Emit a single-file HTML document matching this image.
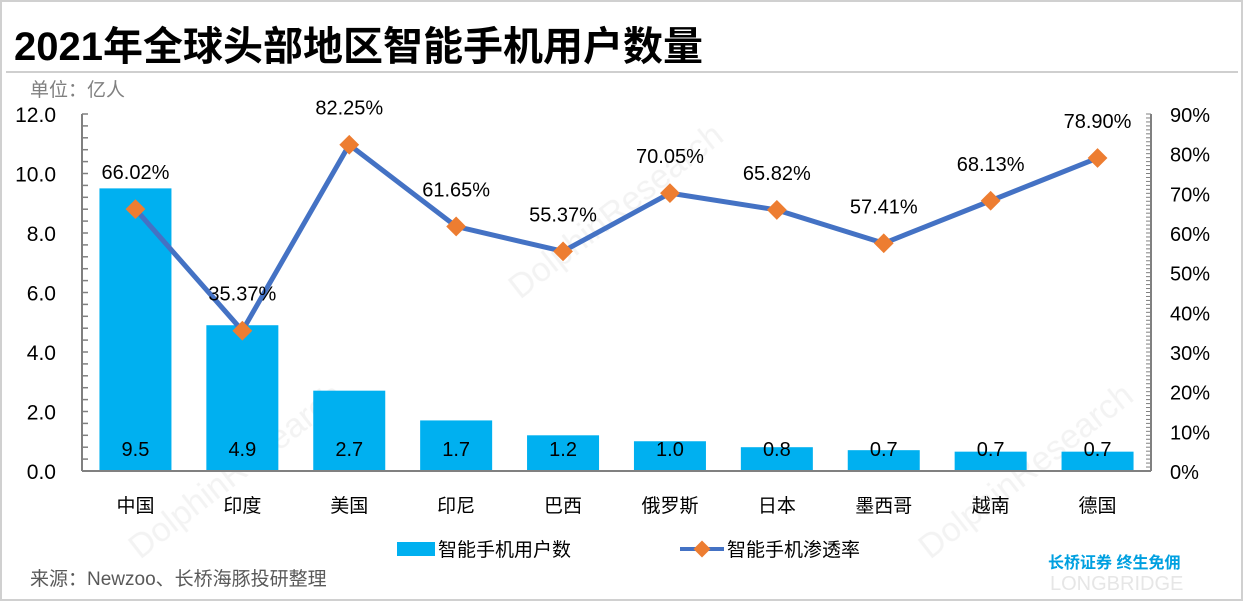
<!DOCTYPE html>
<html><head><meta charset="utf-8">
<style>
body{margin:0;background:#fff;}
svg{display:block;font-family:"Liberation Sans","Noto Sans CJK SC",sans-serif;}
</style></head>
<body>
<svg id="c" width="1244" height="602" viewBox="0 0 1244 602">
<rect x="1" y="1" width="1241" height="599" fill="#fff" stroke="#d0d0d0" stroke-width="2"/>
<text x="14" y="60" font-size="40" font-weight="bold" fill="#000">2021年全球头部地区智能手机用户数量</text>
<line x1="6" y1="72" x2="1238" y2="72" stroke="#bfbfbf" stroke-width="1.5"/>
<text x="30" y="96" font-size="19" fill="#808080">单位：亿人</text>
<g id="wm" opacity="0.1" font-size="34" fill="#888">
<text x="140" y="560" transform="rotate(-38 140 560)">DolphinResearch</text>
<text x="520" y="300" transform="rotate(-38 520 300)">DolphinResearch</text>
<text x="930" y="560" transform="rotate(-38 930 560)">DolphinResearch</text>
</g>
<g id="plot"></g>
<g>
<rect x="397" y="542" width="38" height="14" fill="#00b0f0"/>
<text x="438" y="556" font-size="19" fill="#000">智能手机用户数</text>
<line x1="680" y1="549" x2="724" y2="549" stroke="#4472c4" stroke-width="4"/>
<rect x="696" y="543" width="12" height="12" fill="#ed7d31" transform="rotate(45 702 549)"/>
<text x="727" y="556" font-size="19" fill="#000">智能手机渗透率</text>
</g>
<text x="1048" y="568" font-size="16" font-weight="bold" fill="#00a0e0">长桥证券 终生免佣</text>
<text x="1050" y="590" font-size="20" fill="#e6e6e6">LONGBRIDGE</text>
<text x="30" y="585" font-size="19" fill="#595959">来源：Newzoo、长桥海豚投研整理</text>
</svg>
<script>
const categories=["中国","印度","美国","印尼","巴西","俄罗斯","日本","墨西哥","越南","德国"];
const users=[9.5,4.9,2.7,1.7,1.2,1.0,0.8,0.7,0.65,0.65];
const userLabels=["9.5","4.9","2.7","1.7","1.2","1.0","0.8","0.7","0.7","0.7"];
const rates=[66.02,35.37,82.25,61.65,55.37,70.05,65.82,57.41,68.13,78.90];
const leftTicks=[0,2,4,6,8,10,12];
const rightTicks=[0,10,20,30,40,50,60,70,80,90];

const NS="http://www.w3.org/2000/svg";
const g=document.getElementById("plot");
const X0=82,X1=1151,Y0=471,Y1=114;
const band=(X1-X0)/categories.length;
const xc=i=>X0+band*(i+0.5);
const yL=v=>Y0-(v/12)*(Y0-Y1);
const yR=v=>Y0-(v/90)*(Y0-Y1);
function el(t,a,txt){const e=document.createElementNS(NS,t);for(const k in a)e.setAttribute(k,a[k]);if(txt!=null)e.textContent=txt;g.appendChild(e);return e;}

users.forEach((v,i)=>{
  const b=el("rect",{x:xc(i)-36,y:yL(v),width:72,height:Y0-yL(v),fill:"#00b0f0"});
  
  
  const t=el("text",{x:xc(i),y:456,"font-size":20,"text-anchor":"middle",fill:"#000"},userLabels[i]);
  
  
  const c=el("text",{x:xc(i),y:512,"font-size":19,"text-anchor":"middle",fill:"#000"},categories[i]);
  
  
});
const la=el("line",{x1:X0,y1:Y1,x2:X0,y2:Y0,stroke:"#808080","stroke-width":2});


const ra=el("line",{x1:X1,y1:Y1,x2:X1,y2:Y0,stroke:"#808080","stroke-width":2});


const xa=el("line",{x1:X0,y1:Y0,x2:X1,y2:Y0,stroke:"#808080","stroke-width":2});


for(let v=0;v<=12.001;v+=0.4){el("line",{x1:X0,y1:yL(v),x2:X0+6,y2:yL(v),stroke:"#808080","stroke-width":1.5});}
for(let v=0;v<=90;v+=1){el("line",{x1:X1-5,y1:yR(v),x2:X1,y2:yR(v),stroke:"#808080","stroke-width":1});}
leftTicks.forEach(v=>{
  const t=el("text",{x:56,y:yL(v)+8,"font-size":21,"text-anchor":"end",fill:"#000"},v.toFixed(1));
  
  
});
rightTicks.forEach(v=>{
  const t=el("text",{x:1170,y:yR(v)+8,"font-size":20,fill:"#000"},v+"%");
  
  
});
const pl=el("polyline",{points:rates.map((r,i)=>xc(i)+","+yR(r)).join(" "),fill:"none",stroke:"#4472c4","stroke-width":5,"stroke-linejoin":"round"});


rates.forEach((r,i)=>{
  const m=el("rect",{x:xc(i)-7,y:yR(r)-7,width:14,height:14,fill:"#ed7d31",transform:`rotate(45 ${xc(i)} ${yR(r)})`});
  
  
  const t=el("text",{x:xc(i),y:yR(r)-30,"font-size":20,"text-anchor":"middle",fill:"#000"},r.toFixed(2)+"%");
  
  
});
</script>
</body></html>
